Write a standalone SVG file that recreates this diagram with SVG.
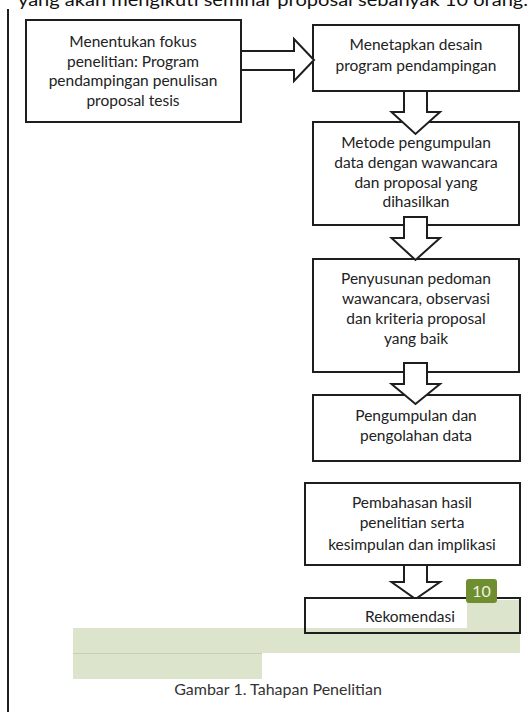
<svg xmlns="http://www.w3.org/2000/svg" width="530" height="712" viewBox="0 0 530 712">
<style>
.box{fill:#fff;stroke:#1e1e1e;stroke-width:2}
.arr{fill:#fff;stroke:#1e1e1e;stroke-width:2;stroke-linejoin:miter}
.t{font-family:Lato,"Open Sans","Liberation Sans",sans-serif;font-size:15.5px;fill:#222;text-anchor:middle}
.hl{fill:#dce4cc}
</style>
<rect width="530" height="712" fill="#fff"/>
<text x="18" y="6" font-family="Lato,'Liberation Sans',sans-serif" font-size="18" fill="#111" textLength="510" lengthAdjust="spacingAndGlyphs">yang akan mengikuti seminar proposal sebanyak 10 orang.</text>
<line x1="8" y1="9" x2="8" y2="712" stroke="#1e1e1e" stroke-width="2"/>

<g id="node1">
<rect class="box" x="26" y="20" width="215" height="102"/>
<text class="t" x="133" y="47">Menentukan fokus</text>
<text class="t" x="133" y="66.5">penelitian: Program</text>
<text class="t" x="133" y="86">pendampingan penulisan</text>
<text class="t" x="133" y="105.5">proposal tesis</text>
</g>
<g id="node2">
<rect class="box" x="313" y="25" width="206" height="66"/>
<text class="t" x="416" y="50">Menetapkan desain</text>
<text class="t" x="416" y="71">program pendampingan</text>
</g>
<g id="node3">
<rect class="box" x="313" y="122" width="206" height="103"/>
<text class="t" x="416" y="148">Metode pengumpulan</text>
<text class="t" x="416" y="168">data dengan wawancara</text>
<text class="t" x="416" y="188">dan proposal yang</text>
<text class="t" x="416" y="207">dihasilkan</text>
</g>
<g id="node4">
<rect class="box" x="313" y="259" width="206" height="113"/>
<text class="t" x="416" y="284">Penyusunan pedoman</text>
<text class="t" x="416" y="304">wawancara, observasi</text>
<text class="t" x="416" y="324">dan kriteria proposal</text>
<text class="t" x="416" y="344">yang baik</text>
</g>
<g id="node5">
<rect class="box" x="313" y="395" width="207" height="66"/>
<text class="t" x="416" y="421">Pengumpulan dan</text>
<text class="t" x="416" y="441">pengolahan data</text>
</g>
<g id="node6">
<rect class="box" x="305" y="483" width="215" height="82"/>
<text class="t" x="412" y="508">Pembahasan hasil</text>
<text class="t" x="412" y="528">penelitian serta</text>
<text class="t" x="412" y="550">kesimpulan dan implikasi</text>
</g>

<g id="connectors">
<polygon class="arr" points="241,51 294,51 294,39 314,60 294,81 294,70 241,70"/>
<polygon class="arr" points="404,91 427,91 427,112 440,112 415.5,134 391.5,112 404,112"/>
<polygon class="arr" points="404,217 427,217 427,238 440,238 415.5,260 391.5,238 404,238"/>
<polygon class="arr" points="404,363 427,363 427,384 440,384 415.5,404 391.5,384 404,384"/>
<polygon class="arr" points="404,565 427,565 427,582 440,582 415.5,599 391.5,582 404,582"/>
</g>

<g id="node7">
<rect x="305" y="598" width="215" height="35" fill="#fff"/>
<rect class="hl" x="467" y="600" width="53" height="28"/>
<rect class="hl" x="73" y="628" width="447" height="25"/>
<rect class="hl" x="73" y="653" width="189" height="26"/>
<line x1="73" y1="653.5" x2="262" y2="653.5" stroke="#c4d1ac" stroke-width="1"/>
<rect x="305" y="598" width="215" height="35" fill="none" stroke="#1e1e1e" stroke-width="2"/>
<text class="t" x="410" y="622">Rekomendasi</text>
</g>
<g id="badge">
<rect x="466" y="579" width="31" height="24" rx="3" fill="#6e8e2f"/>
<text x="481.5" y="597" font-family="Lato,'Liberation Sans',sans-serif" font-size="16" fill="#eef3e2" text-anchor="middle">10</text>
</g>
<text x="278" y="695" font-family="Lato,'Open Sans','Liberation Sans',sans-serif" font-size="16" fill="#333" text-anchor="middle">Gambar 1. Tahapan Penelitian</text>
</svg>
